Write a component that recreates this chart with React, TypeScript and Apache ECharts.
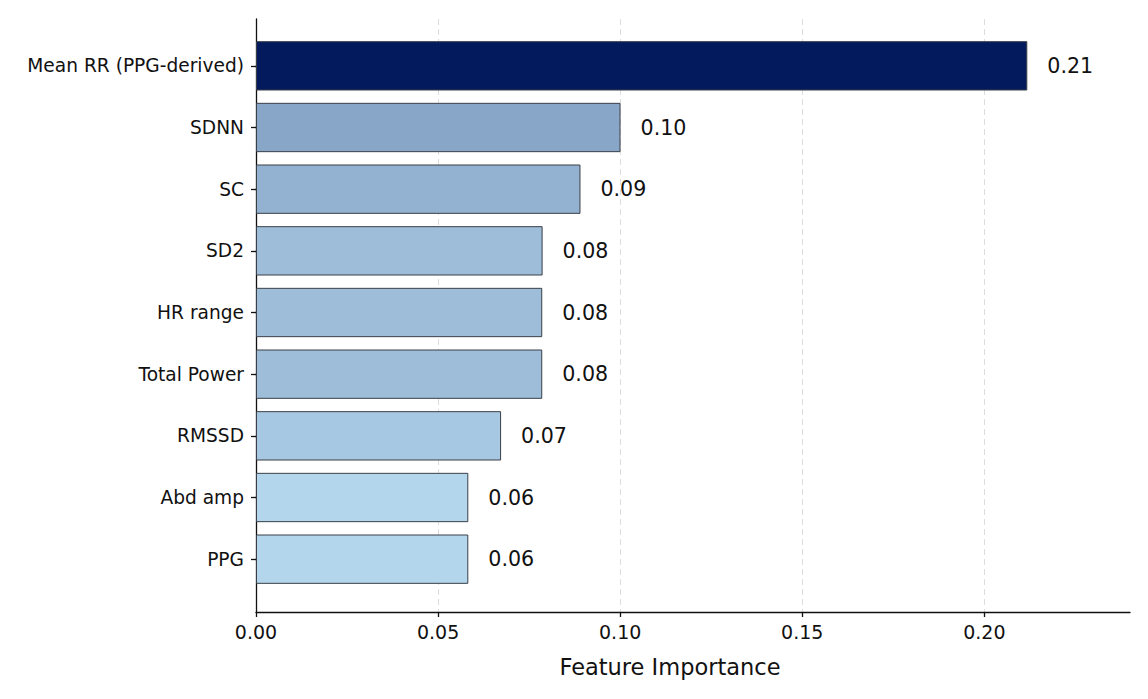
import React, { useEffect, useRef } from 'react';
import * as echarts from 'echarts';

const features = [
  'Mean RR (PPG-derived)',
  'SDNN',
  'SC',
  'SD2',
  'HR range',
  'Total Power',
  'RMSSD',
  'Abd amp',
  'PPG',
];
const importance = [0.2118, 0.1001, 0.0891, 0.0787, 0.0786, 0.0786, 0.0673, 0.0583, 0.0583];
const barColors = [
  '#031a5c',
  '#87a6c8',
  '#93b2d1',
  '#9dbdd9',
  '#9dbdd9',
  '#9dbdd9',
  '#a7c8e2',
  '#b4d6ec',
  '#b4d6ec',
];
const xTicks = [0, 0.05, 0.1, 0.15, 0.2];

const FONT = '"DejaVu Sans", sans-serif';

const App: React.FC = () => {
  const chartRef = useRef<HTMLDivElement | null>(null);

  useEffect(() => {
    const chart = echarts.init(chartRef.current!, undefined, { renderer: 'svg' });

    const option = {
      animation: false,
      backgroundColor: '#ffffff',
      textStyle: { fontFamily: FONT },
      grid: [
        { left: 256, right: 18, top: 35, bottom: 109 },
        { left: 256, right: 18, top: 19, bottom: 87 },
      ],
      xAxis: [
        {
          type: 'value',
          gridIndex: 0,
          min: 0,
          max: 0.24,
          interval: 0.05,
          show: false,
        },
        {
          type: 'value',
          gridIndex: 1,
          min: 0,
          max: 0.24,
          interval: 0.05,
          name: 'Feature Importance',
          nameLocation: 'middle',
          nameGap: 43,
          nameTextStyle: { fontSize: 22.5, color: '#111', fontFamily: FONT, padding: [0, 46, 0, 0] },
          axisLine: { show: true, lineStyle: { color: '#111', width: 1.3 } },
          axisTick: {
            show: true,
            length: 5,
            customValues: xTicks,
            lineStyle: { color: '#111', width: 1.3 },
          },
          axisLabel: {
            fontSize: 19,
            color: '#111',
            margin: 10,
            fontFamily: FONT,
            customValues: xTicks,
            formatter: (v: number) => v.toFixed(2),
          },
          splitLine: { show: true, lineStyle: { color: '#dddddd', type: [6, 4], width: 1 } },
        },
      ],
      yAxis: [
        {
          type: 'category',
          gridIndex: 0,
          data: features,
          inverse: true,
          axisLine: { show: false },
          axisTick: { show: true, alignWithLabel: true, length: 5, lineStyle: { color: '#111', width: 1.3 } },
          axisLabel: { fontSize: 18.6, color: '#111', margin: 12, fontFamily: FONT },
          splitLine: { show: false },
        },
        {
          type: 'value',
          gridIndex: 1,
          min: 0,
          max: 1,
          axisLine: { show: true, onZero: false, lineStyle: { color: '#111', width: 1.3 } },
          axisTick: { show: false },
          axisLabel: { show: false },
          splitLine: { show: false },
        },
      ],
      series: [
        {
          type: 'bar',
          xAxisIndex: 0,
          yAxisIndex: 0,
          barWidth: '80%',
          data: importance.map((v, i) => ({
            value: v,
            itemStyle: {
              color: barColors[i],
              borderColor: '#3a3f47',
              borderWidth: 1,
            },
          })),
          label: {
            show: true,
            position: 'right',
            distance: 20,
            fontSize: 20.6,
            color: '#111',
            fontFamily: FONT,
            formatter: (p: { value: number }) => p.value.toFixed(2),
          },
        },
      ],
    };

    chart.setOption(option);

    return () => {
      chart.dispose();
    };
  }, []);

  return (
    <div
      ref={chartRef}
      style={{ position: 'fixed', left: 0, top: 0, width: '1148px', height: '699px' }}
    />
  );
};

export default App;
